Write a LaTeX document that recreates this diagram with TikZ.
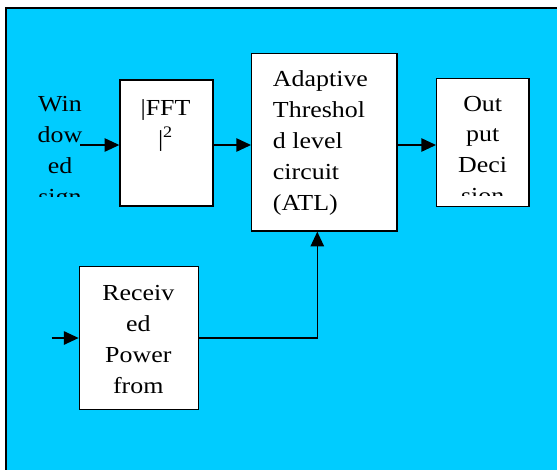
\documentclass[tikz,border=0pt]{standalone}
\usepackage{fontspec}
\setmainfont{Liberation Serif}[FakeStretch=1.13]
\usepackage{tikz}
\usetikzlibrary{arrows.meta, positioning, fit}
\definecolor{bgcyan}{RGB}{0,204,255}
\definecolor{mydark}{RGB}{0,0,0}
\tikzset{
  box/.style={rectangle, draw=mydark, fill=white, inner sep=0pt,
    line width=1pt},
  lbl/.style={inner sep=0pt, align=center,
    font=\fontsize{17.2}{23.1}\selectfont},
  arrow/.style={-{Triangle[length=11pt, width=10pt]}, line width=1.1pt, color=mydark},
  line/.style={line width=1pt, color=mydark}
}

\begin{document}
\begin{tikzpicture}[x=0.75pt, y=-0.75pt]
  \useasboundingbox (0,0) rectangle (557,469);
  % Background panel
  \draw[draw=mydark, fill=bgcyan, line width=1.5pt] (6,8) rectangle (560,472);

  % Blocks
  \node[box, fit={(120,80) (213,206)}] (fft) {};
  \node[box, fit={(251.7,53.3) (397,231)}] (atl) {};
  \node[box, fit={(436.7,78.3) (529,206.7)}] (outdec) {};
  \node[box, fit={(79.3,266.7) (198.3,409.3)}] (rcv) {};

  % Block texts (anchored at the baseline of the last line)
  \begin{scope}
    \clip (20,60) rectangle (110,196);
    \node[lbl, anchor=base] (wintxt) at (60,204) {Win\\dow\\ed\\sign};
  \end{scope}
  \node[lbl, anchor=base] (ffttxt) at (165.5,146) {|FFT\\|\textsuperscript{2}};
  \node[lbl, anchor=base west, align=left] (atltxt) at (272.7,210)
    {Adaptive\\Threshol\\d level\\circuit\\(ATL)};
  \begin{scope}
    \clip (438,80) rectangle (528,195);
    \node[lbl, anchor=base] (outtxt) at (482.7,203.5) {Out\\put\\Deci\\sion};
  \end{scope}
  \node[lbl, anchor=base] (rcvtxt) at (138.3,393) {Receiv\\ed\\Power\\from};

  % Connectors
  \coordinate (winend) at (80,145);
  \coordinate (rcvin) at (51.7,338);
  \draw[arrow] (winend) -- (winend -| fft.west);
  \draw[arrow] (fft.east |- winend) -- (atl.west |- winend);
  \draw[arrow] (atl.east |- winend) -- (outdec.west |- winend);
  \draw[arrow] (rcvin) -- (rcv.west |- rcvin);
  \draw[arrow] (rcv.east |- rcvin) -| (atl.south -| 317.3,0);
\end{tikzpicture}
\end{document}
